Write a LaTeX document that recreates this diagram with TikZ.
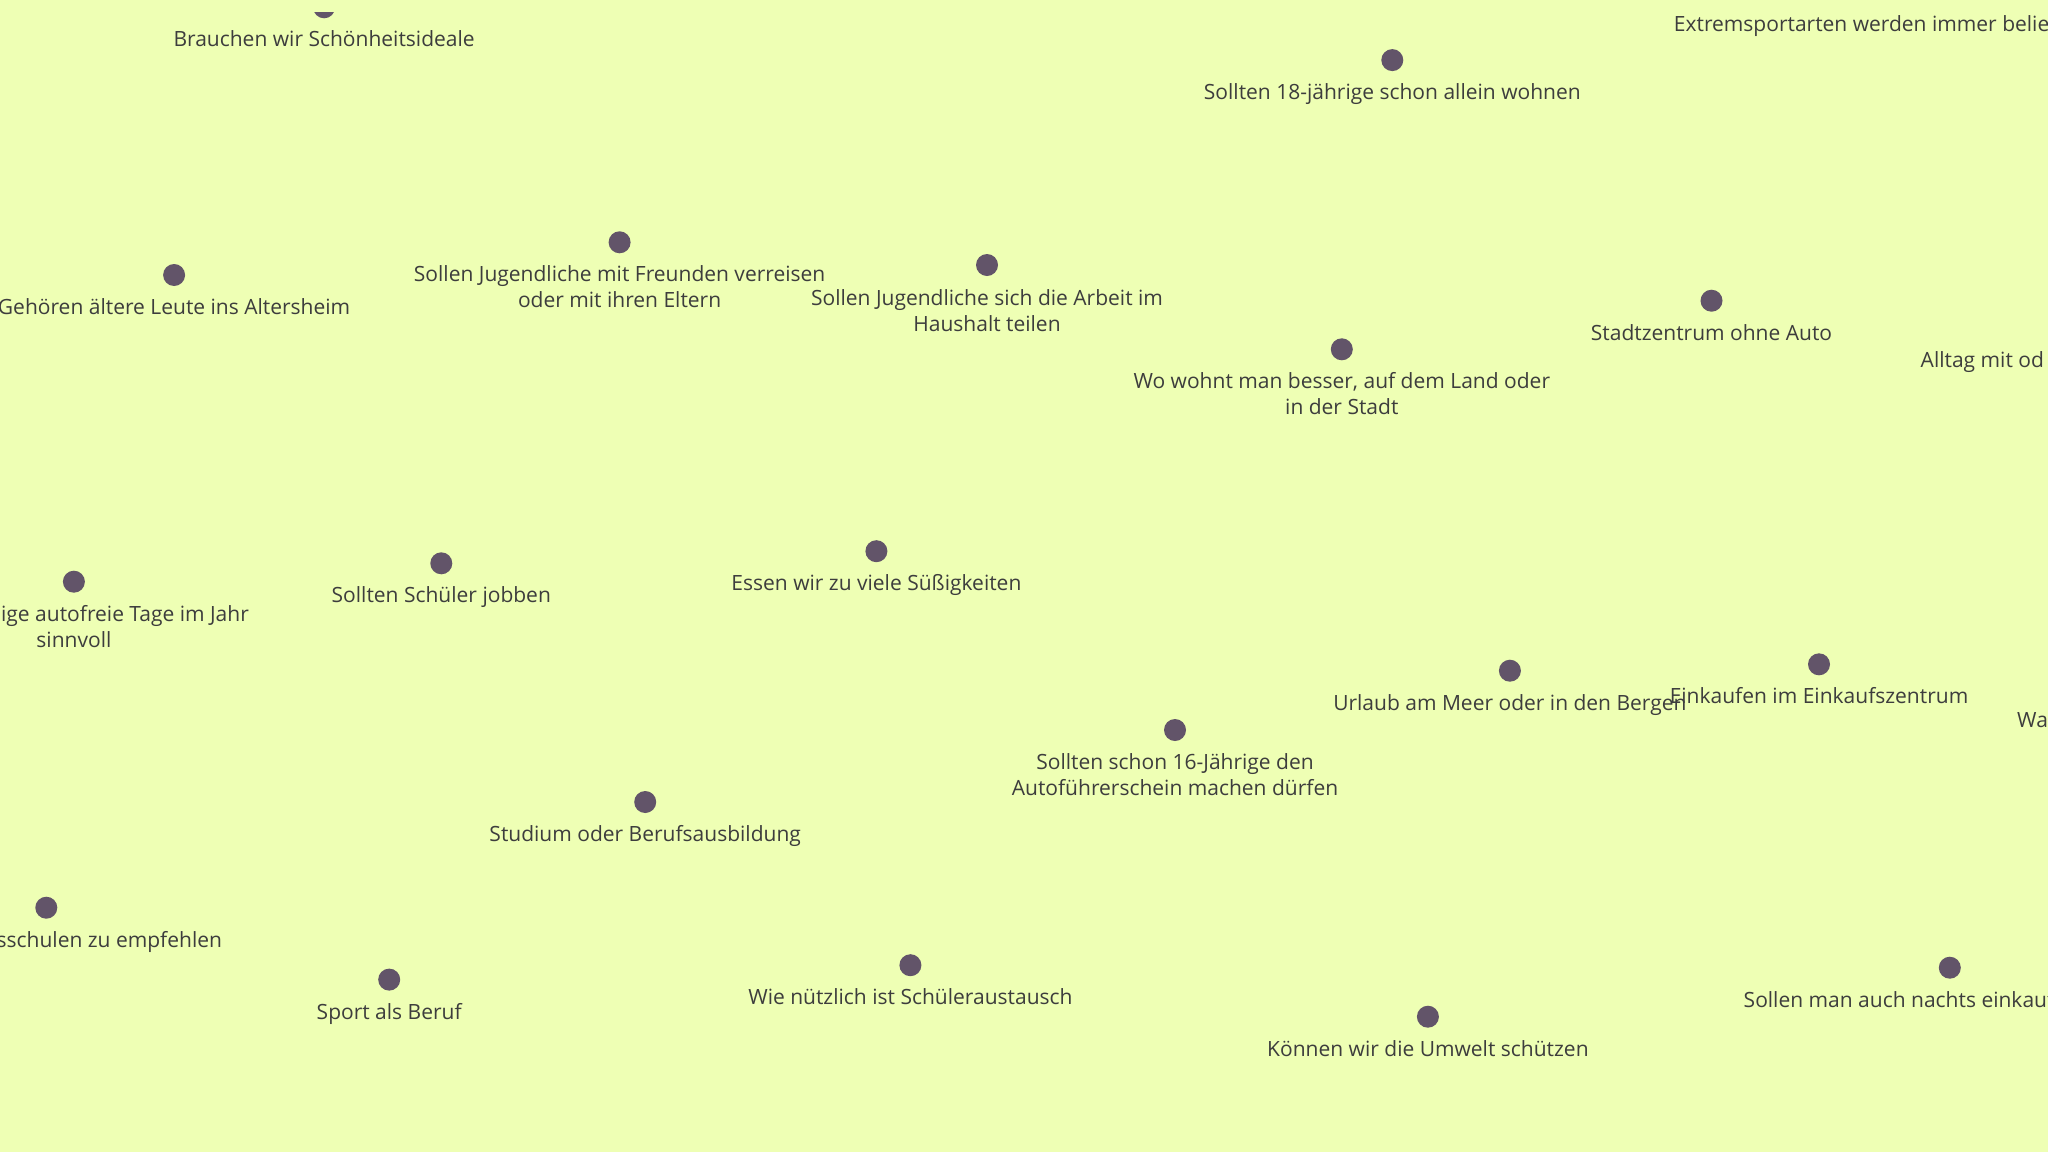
\documentclass[tikz,border=0pt]{standalone}
\usepackage{fontspec}
\setmainfont{Open Sans}
\definecolor{bgc}{HTML}{EEFFB4}
\definecolor{dotc}{HTML}{625469}
\definecolor{txtc}{HTML}{3D3D3D}
\begin{document}
\begin{tikzpicture}[x=1pt,y=-1pt,
  pt/.style={circle,fill=dotc,inner sep=0pt,minimum size=22pt},
  lbl/.style={anchor=base,align=center,text=txtc,inner sep=0pt,font=\fontsize{21}{26}\selectfont},
  lblw/.style={anchor=base west,text=txtc,inner sep=0pt,font=\fontsize{21}{26}\selectfont}]
\useasboundingbox (0,0) rectangle (2048,1152);
\fill[bgc] (0,0) rectangle (2048,1152);
\clip (0,0) rectangle (2048,1152);
\begin{scope}
\clip (0,12.3) rectangle (2048,1152);
\node[pt] (dA) at (324.1,7.3) {};
\end{scope}
\node[lbl] (lA) at (324.1,46.8) {Brauchen wir Schönheitsideale};
\node[lblw] (lB) at (1673.7,31.5) {Extremsportarten werden immer belieb};
\node[pt] (dC) at (1392.3,60.1) {};
\node[lbl] (lC) at (1392.3,99.6) {Sollten 18-jährige schon allein wohnen};
\node[pt] (dD) at (174.1,275) {};
\node[lbl] (lD) at (174.1,314.5) {Gehören ältere Leute ins Altersheim};
\node[pt] (dE) at (619.6,242.3) {};
\node[lbl] (lE) at (619.6,307.8) {Sollen Jugendliche mit Freunden verreisen\\oder mit ihren Eltern};
\node[pt] (dF) at (987,265) {};
\node[lbl] (lF) at (987,331.5) {Sollen Jugendliche sich die Arbeit im\\Haushalt teilen};
\node[pt] (dG) at (1711.5,300.7) {};
\node[lbl] (lG) at (1711.5,340.2) {Stadtzentrum ohne Auto};
\node[pt] (dH) at (1341.8,349.3) {};
\node[lbl] (lH) at (1341.8,414.8) {Wo wohnt man besser, auf dem Land oder\\in der Stadt};
\node[lblw] (lI) at (1920.5,367.3) {Alltag mit od};
\node[pt] (dJ) at (73.9,581.7) {};
\node[lbl] (lJ) at (73.9,647.2) {\makebox[350pt][r]{ige autofreie Tage im Jahr}\\sinnvoll};
\node[pt] (dK) at (441.3,563.3) {};
\node[lbl] (lK) at (441.3,602.8) {Sollten Schüler jobben};
\node[pt] (dL) at (876.4,551.2) {};
\node[lbl] (lL) at (876.4,590.7) {Essen wir zu viele Süßigkeiten};
\node[pt] (dM) at (1509.9,670.7) {};
\node[lbl] (lM) at (1509.9,710.2) {Urlaub am Meer oder in den Bergen};
\node[pt] (dN) at (1819,664.3) {};
\node[lbl] (lN) at (1819,703.8) {Einkaufen im Einkaufszentrum};
\node[lblw] (lO) at (2017,727) {Wa};
\node[pt] (dP) at (1175,730) {};
\node[lbl] (lP) at (1175,795.5) {Sollten schon 16-Jährige den\\Autoführerschein machen dürfen};
\node[pt] (dQ) at (645.2,802) {};
\node[lbl] (lQ) at (645.2,841.5) {Studium oder Berufsausbildung};
\node[pt] (dR) at (46.3,907.7) {};
\node[lbl] (lR) at (46.3,947.2) {\makebox[351.4pt][r]{sschulen zu empfehlen}};
\node[pt] (dS) at (389.2,979.6) {};
\node[lbl] (lS) at (389.2,1019.1) {Sport als Beruf};
\node[pt] (dT) at (910.4,965.2) {};
\node[lbl] (lT) at (910.4,1004.7) {Wie nützlich ist Schüleraustausch};
\node[pt] (dU) at (1427.9,1016.7) {};
\node[lbl] (lU) at (1427.9,1056.2) {Können wir die Umwelt schützen};
\node[pt] (dV) at (1949.8,967.7) {};
\node[lbl] (lV) at (1949.8,1007.2) {\makebox[412.2pt][l]{Sollen man auch nachts einkauf}};
\end{tikzpicture}
\end{document}
